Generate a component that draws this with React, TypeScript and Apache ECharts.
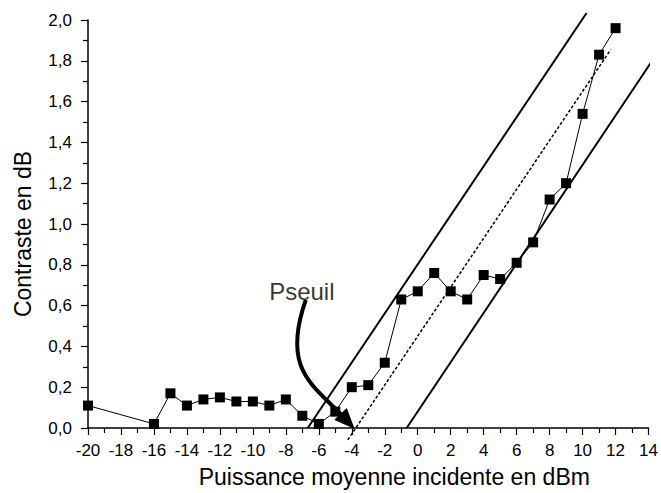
import React, { useEffect, useRef } from "react";
import * as echarts from "echarts";

const powerDbm = [-20, -16, -15, -14, -13, -12, -11, -10, -9, -8, -7, -6, -5, -4, -3, -2, -1, 0, 1, 2, 3, 4, 5, 6, 7, 8, 9, 10, 11, 12];
const contrastDb = [0.11, 0.02, 0.17, 0.11, 0.14, 0.15, 0.13, 0.13, 0.11, 0.14, 0.06, 0.02, 0.08, 0.2, 0.21, 0.32, 0.63, 0.67, 0.76, 0.67, 0.63, 0.75, 0.73, 0.81, 0.91, 1.12, 1.2, 1.54, 1.83, 1.96];

const leftBound = [[-6.67, 0], [10.24, 2.034]];
const fitLine = [[-4.24, -0.058], [11.7, 1.854]];
const rightBound = [[-0.67, 0], [14.55, 1.84]];
// Pseuil arrow: start, control 1, control 2, tip (data coordinates)
const arrowCurve = [[-6.79, 0.628], [-8.27, 0.286], [-6.36, 0.213], [-3.88, 0]];
const labelPoint = [[-7.03, 0.67]];

const FONT = "'Liberation Sans', Arial, sans-serif";
const fmt = (v: number) => v.toFixed(1).replace(".", ",");

export default function App() {
  const ref = useRef<HTMLDivElement>(null);
  useEffect(() => {
    if (!ref.current) return;
    const chart = echarts.init(ref.current, undefined, { renderer: "svg" });
    const axisCommon = {
      axisLine: { show: true, onZero: false, lineStyle: { color: "#000", width: 1.5 } },
      axisTick: { show: true, inside: false, length: 7, lineStyle: { color: "#000", width: 1.2 } },
      minorTick: { show: true, splitNumber: 2, length: 5, lineStyle: { color: "#000", width: 1.2 } },
      splitLine: { show: false },
      axisLabel: { color: "#000", fontSize: 17, fontFamily: FONT },
      nameTextStyle: { color: "#000", fontSize: 23, fontFamily: FONT },
    };
    chart.setOption({
      animation: false,
      backgroundColor: "#fff",
      grid: { left: 88, right: 12, top: 20, bottom: 62 },
      xAxis: {
        type: "value",
        min: -20,
        max: 14,
        interval: 2,
        ...axisCommon,
        axisLabel: { ...axisCommon.axisLabel, margin: 14 },
        name: "Puissance moyenne incidente en dBm",
        nameLocation: "middle",
        nameGap: 37,
        nameTextStyle: { ...axisCommon.nameTextStyle, padding: [0, 0, 0, 52] },
      },
      yAxis: {
        type: "value",
        min: 0,
        max: 2,
        interval: 0.2,
        ...axisCommon,
        axisLabel: { ...axisCommon.axisLabel, margin: 16, formatter: (v: number) => fmt(v) },
        name: "Contraste en dB",
        nameLocation: "middle",
        nameGap: 54,
        nameTextStyle: { ...axisCommon.nameTextStyle, padding: [0, 20, 0, 0] },
      },
      series: [
        {
          type: "line",
          data: leftBound,
          symbol: "none",
          clip: false,
          lineStyle: { color: "#000", width: 2 },
          silent: true,
        },
        {
          type: "line",
          data: fitLine,
          symbol: "none",
          clip: false,
          lineStyle: { color: "#000", width: 1.5, type: [3, 2] },
          silent: true,
        },
        {
          type: "line",
          data: rightBound,
          symbol: "none",
          clip: false,
          lineStyle: { color: "#000", width: 2 },
          silent: true,
        },
        {
          type: "line",
          data: powerDbm.map((x, i) => [x, contrastDb[i]]),
          symbol: "rect",
          symbolSize: 10,
          clip: false,
          itemStyle: { color: "#000" },
          lineStyle: { color: "#000", width: 1 },
          z: 5,
        },
        {
          type: "custom",
          coordinateSystem: "cartesian2d",
          data: [arrowCurve[3]],
          clip: false,
          silent: true,
          z: 6,
          renderItem: (_params: any, api: any) => {
            const p = arrowCurve.map((c) => api.coord(c));
            const tip = p[3];
            let dx = p[3][0] - p[2][0];
            let dy = p[3][1] - p[2][1];
            const len = Math.sqrt(dx * dx + dy * dy) || 1;
            dx /= len;
            dy /= len;
            const headLen = 19;
            const headHalf = 8;
            const base = [tip[0] - dx * headLen, tip[1] - dy * headLen];
            const nx = -dy;
            const ny = dx;
            const end = [tip[0] - dx * (headLen - 2), tip[1] - dy * (headLen - 2)];
            return {
              type: "group",
              children: [
                {
                  type: "bezierCurve",
                  shape: {
                    x1: p[0][0], y1: p[0][1],
                    cpx1: p[1][0], cpy1: p[1][1],
                    cpx2: p[2][0], cpy2: p[2][1],
                    x2: end[0], y2: end[1],
                  },
                  style: { stroke: "#000", lineWidth: 4, fill: null },
                },
                {
                  type: "polygon",
                  shape: {
                    points: [
                      tip,
                      [base[0] + nx * headHalf, base[1] + ny * headHalf],
                      [base[0] - nx * headHalf, base[1] - ny * headHalf],
                    ],
                  },
                  style: { fill: "#000", stroke: "#000", lineWidth: 1 },
                },
              ],
            };
          },
        },
        {
          type: "scatter",
          data: labelPoint,
          symbolSize: 0,
          silent: true,
          label: {
            show: true,
            position: "inside",
            formatter: "Pseuil",
            color: "#000",
            fontSize: 24,
            fontFamily: FONT,
          },
        },
      ],
    });
    return () => chart.dispose();
  }, []);
  return <div ref={ref} style={{ width: 661, height: 493, position: "absolute", left: 0, top: 0 }} />;
}
